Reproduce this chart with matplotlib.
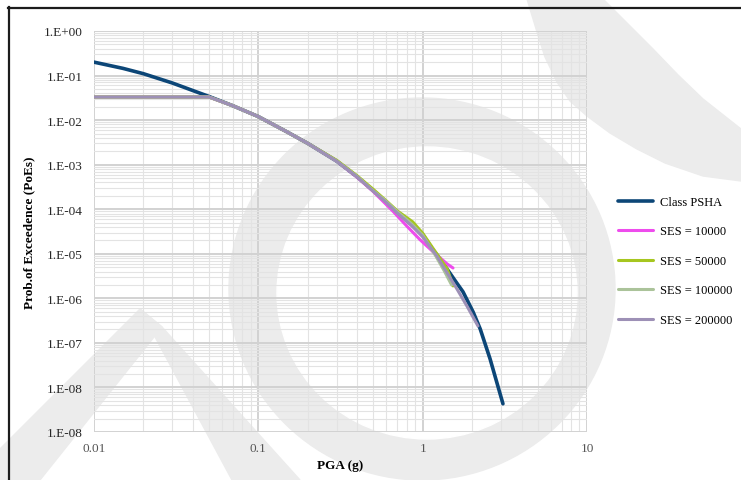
#!/usr/bin/env python3
"""Hazard curves: classical PSHA against event-based runs with several SES counts."""

import matplotlib

matplotlib.use("Agg")
from matplotlib import pyplot as plt
from matplotlib.lines import Line2D
from matplotlib.patches import Ellipse, Polygon
from matplotlib.ticker import FixedLocator, LogLocator, NullFormatter
from matplotlib.transforms import Affine2D

FIG_W_PX = 741
FIG_H_PX = 481
SERIF = "Liberation Serif"

# values
CLASS_PGA = [0.01, 0.015, 0.02, 0.03, 0.04, 0.05, 0.07, 0.1, 0.15, 0.2, 0.3, 0.4, 0.5, 0.6, 0.7,
             0.85, 1.0, 1.15, 1.28, 1.41, 1.6, 1.76, 2.03, 2.24, 2.57, 3.08]
CLASS_POE = [0.20, 0.145, 0.11, 0.068, 0.046, 0.034, 0.021, 0.012, 5.4e-3, 3.0e-3, 1.2e-3, 5.3e-4,
             2.6e-4, 1.45e-4, 8.6e-5, 4.6e-5, 2.7e-5, 1.25e-5, 7.6e-6, 4.5e-6, 2.3e-6, 1.4e-6,
             4.9e-7, 2.05e-7, 4.4e-8, 4.3e-9]

SES10K_PGA = [0.01, 0.05, 0.07, 0.1, 0.15, 0.2, 0.3, 0.4, 0.5, 0.66, 0.8, 0.96, 1.16, 1.41, 1.53]
SES10K_POE = [0.033, 0.033, 0.021, 0.012, 5.4e-3, 3.0e-3, 1.2e-3, 5.2e-4, 2.5e-4, 9.0e-5, 4.2e-5,
              2.1e-5, 1.1e-5, 5.9e-6, 4.8e-6]

SES50K_PGA = [0.01, 0.05, 0.07, 0.1, 0.15, 0.2, 0.3, 0.4, 0.5, 0.6, 0.7, 0.87, 1.0, 1.16, 1.41, 1.53]
SES50K_POE = [0.033, 0.033, 0.021, 0.012, 5.4e-3, 3.0e-3, 1.25e-3, 5.6e-4, 2.8e-4, 1.55e-4, 9.2e-5,
              5.2e-5, 2.9e-5, 1.3e-5, 4.6e-6, 1.9e-6]

SES100K_PGA = [0.01, 0.05, 0.07, 0.1, 0.15, 0.2, 0.3, 0.4, 0.5, 0.6, 0.7, 0.85, 1.0, 1.2, 1.35, 1.5]
SES100K_POE = [0.033, 0.033, 0.021, 0.012, 5.4e-3, 3.0e-3, 1.2e-3, 5.4e-4, 2.6e-4, 1.5e-4, 8.8e-5,
               4.8e-5, 2.6e-5, 9.0e-6, 4.2e-6, 2.0e-6]

SES200K_PGA = [0.01, 0.05, 0.07, 0.1, 0.15, 0.2, 0.3, 0.4, 0.5, 0.6, 0.7, 0.85, 1.0, 1.22, 1.62,
               1.86, 2.17]
SES200K_POE = [0.033, 0.033, 0.021, 0.012, 5.4e-3, 3.0e-3, 1.2e-3, 5.3e-4, 2.55e-4, 1.42e-4,
               8.2e-5, 4.4e-5, 2.4e-5, 8.9e-6, 1.6e-6, 6.7e-7, 2.4e-7]

SERIES_LABELS = ["Class PSHA", "SES = 10000", "SES = 50000", "SES = 100000", "SES = 200000"]
SERIES_COLORS = ["#0c4677", "#ee4ced", "#a6c61f", "#abc39a", "#9d90b6"]

Y_TICKS = [1e0, 1e-1, 1e-2, 1e-3, 1e-4, 1e-5, 1e-6, 1e-7, 1e-8, 1e-9]
Y_TICK_LABELS = ["1.E+00", "1.E-01", "1.E-02", "1.E-03", "1.E-04", "1.E-05",
                 "1.E-06", "1.E-07", "1.E-08", "1.E-08"]
X_TICKS = [0.01, 0.1, 1, 10]
X_TICK_LABELS = ["0.01", "0.1", "1", "10"]

WATERMARK = "#ececec"


def px_transform(fig):
    # image pixel coordinates, origin top-left
    return Affine2D().scale(1 / FIG_W_PX, -1 / FIG_H_PX).translate(0, 1) + fig.transFigure


def draw_watermark(fig):
    tr = px_transform(fig)
    fig.add_artist(Ellipse((422, 290), 386, 382, transform=tr, color=WATERMARK, zorder=-3))
    fig.add_artist(Ellipse((427, 294), 300, 292, transform=tr, color="white", zorder=-2))
    crescent = [(527, 0), (603, 0), (628, 25), (653, 50), (678, 76), (703, 100), (741, 130),
                (741, 182), (703, 177), (665, 164), (637, 150), (610, 134), (587, 117),
                (570, 102), (557, 83), (545, 58), (537, 33)]
    fig.add_artist(Polygon(crescent, closed=True, transform=tr, color=WATERMARK, zorder=-1))
    left_leg = [(0, 450), (140, 310), (162, 328), (40, 481), (0, 481)]
    fig.add_artist(Polygon(left_leg, closed=True, transform=tr, color=WATERMARK, zorder=-1))
    right_leg = [(140, 310), (162, 328), (300, 481), (232, 481)]
    fig.add_artist(Polygon(right_leg, closed=True, transform=tr, color=WATERMARK, zorder=-1))


def main():
    fig = plt.figure(figsize=(FIG_W_PX / 100, FIG_H_PX / 100), dpi=100, facecolor="white")
    draw_watermark(fig)

    ax = fig.add_axes([94 / FIG_W_PX, 1 - 433 / FIG_H_PX, 493 / FIG_W_PX, 401 / FIG_H_PX])
    ax.set_facecolor("none")
    ax.set_xscale("log")
    ax.set_yscale("log")
    ax.set_xlim(0.01, 10)
    ax.set_ylim(1e-9, 1)

    ax.xaxis.set_minor_locator(LogLocator(base=10, subs=range(2, 10), numticks=20))
    ax.yaxis.set_minor_locator(LogLocator(base=10, subs=range(2, 10), numticks=20))
    ax.xaxis.set_minor_formatter(NullFormatter())
    ax.yaxis.set_minor_formatter(NullFormatter())
    ax.grid(which="minor", color="#e3e3e3", linewidth=0.8)
    ax.grid(which="major", color="#d2d2d2", linewidth=1.4)
    ax.set_axisbelow(True)
    for spine in ax.spines.values():
        spine.set_visible(False)

    ax.xaxis.set_major_locator(FixedLocator(X_TICKS))
    ax.set_xticklabels(X_TICK_LABELS)
    ax.yaxis.set_major_locator(FixedLocator(Y_TICKS))
    ax.set_yticklabels(Y_TICK_LABELS)
    ax.tick_params(which="both", length=0)
    ax.tick_params(axis="x", pad=7, labelsize=9.5, labelcolor="#555555")
    ax.tick_params(axis="y", pad=8, labelsize=9.5, labelcolor="#262626")
    for label in ax.get_xticklabels() + ax.get_yticklabels():
        label.set_family(SERIF)

    series = [
        (CLASS_PGA, CLASS_POE, 2.6),
        (SES10K_PGA, SES10K_POE, 2.2),
        (SES50K_PGA, SES50K_POE, 2.2),
        (SES100K_PGA, SES100K_POE, 2.2),
        (SES200K_PGA, SES200K_POE, 2.2),
    ]
    handles = []
    for (pga, poe, lw), label, color in zip(series, SERIES_LABELS, SERIES_COLORS):
        (line,) = ax.plot(pga, poe, color=color, linewidth=lw, label=label,
                          solid_capstyle="round", solid_joinstyle="round")
        handles.append(line)

    ax.set_xlabel("PGA (g)", family=SERIF, fontsize=9.5, weight="bold", labelpad=4)
    ax.set_ylabel("Prob.of Exceedence (PoEs)", family=SERIF, fontsize=9.5, weight="bold",
                  labelpad=6)

    fig.legend(
        handles=handles,
        loc="center left",
        bbox_to_anchor=(618 / FIG_W_PX, 1 - 262 / FIG_H_PX),
        frameon=False,
        prop={"family": SERIF, "size": 9},
        handlelength=2.8,
        handletextpad=0.55,
        labelspacing=1.4,
        borderpad=0,
        borderaxespad=0,
    )

    # page frame
    tr = px_transform(fig)
    fig.add_artist(Line2D([8, 741], [8.5, 8.5], transform=tr, color="#1c1c1c", linewidth=1.6))
    fig.add_artist(Line2D([8.5, 8.5], [8, 481], transform=tr, color="#1c1c1c", linewidth=1.6))

    fig.savefig("out.png", dpi=100, facecolor="white")
    plt.close(fig)


if __name__ == "__main__":
    main()
